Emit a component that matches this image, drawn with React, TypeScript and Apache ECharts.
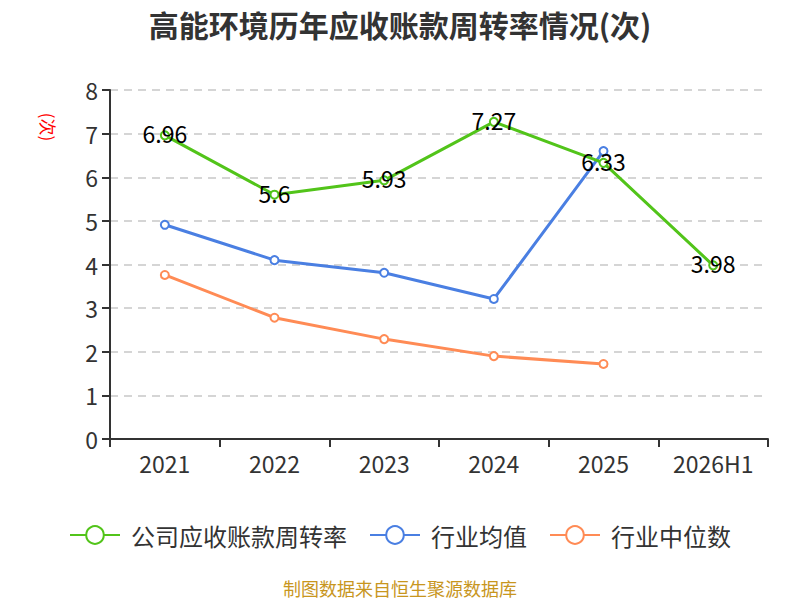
import React, { useEffect, useRef } from "react";
import * as echarts from "echarts";

const categories = ["2021", "2022", "2023", "2024", "2025", "2026H1"];
const companyValues = [6.96, 5.6, 5.93, 7.27, 6.33, 3.98];
const industryAvg = [4.91, 4.1, 3.81, 3.21, 6.6, null];
const industryMedian = [3.76, 2.78, 2.29, 1.9, 1.72, null];
const seriesNames = ["公司应收账款周转率", "行业均值", "行业中位数"];
const colors = ["#52c41a", "#4a7fe2", "#ff8b55"];

export default function App() {
  const ref = useRef<HTMLDivElement>(null);
  useEffect(() => {
    document.body.style.margin = "0";
    if (!ref.current) return;
    const chart = echarts.init(ref.current, undefined, { renderer: "svg" });
    const fontFamily = "'Noto Sans CJK SC', 'Noto Sans', sans-serif";
    const mkSeries = (name: string, data: any[], color: string, label: boolean) => ({
      name,
      type: "line",
      data,
      symbol: "emptyCircle",
      symbolSize: 8,
      lineStyle: { color, width: 3 },
      itemStyle: { color, borderWidth: 1.5 },
      label: label
        ? { show: true, position: "inside", color: "#000", fontSize: 23, fontFamily, offset: [0, -2] }
        : { show: false },
      z: label ? 3 : 2,
    });
    chart.setOption({
      animation: false,
      textStyle: { fontFamily },
      title: {
        text: "高能环境历年应收账款周转率情况(次)",
        left: "center",
        top: 4,
        textStyle: { fontSize: 30, fontWeight: "bold", color: "#333", fontFamily },
      },
      legend: {
        bottom: 48,
        left: "center",
        itemWidth: 50,
        itemHeight: 22,
        itemGap: 22,
        textStyle: { fontSize: 24, color: "#333", fontFamily, padding: [0, 0, 0, 6] },
        data: seriesNames,
      },
      grid: { left: 110, right: 32, top: 90, bottom: 161, containLabel: false },
      xAxis: {
        type: "category",
        data: categories,
        boundaryGap: true,
        axisLine: { lineStyle: { color: "#333", width: 2 } },
        axisTick: { show: true, length: 8, lineStyle: { color: "#333", width: 2 } },
        axisLabel: { fontSize: 23, color: "#333", margin: 12, fontFamily },
      },
      yAxis: {
        type: "value",
        min: 0,
        max: 8,
        interval: 1,
        axisLine: { show: true, lineStyle: { color: "#333", width: 2 } },
        axisTick: { show: true, length: 8, lineStyle: { color: "#333", width: 2 } },
        axisLabel: { fontSize: 23, color: "#333", margin: 12, fontFamily },
        splitLine: { show: true, lineStyle: { color: "#c8c8c8", type: [8, 6], width: 1.5 } },
      },
      graphic: [
        {
          type: "text",
          x: 48,
          y: 127,
          rotation: -Math.PI / 2,
          style: {
            text: "(次)",
            fill: "#ff0000",
            fontSize: 17,
            fontFamily,
            align: "center",
            verticalAlign: "middle",
          },
        },
        {
          type: "text",
          left: "center",
          top: 579,
          style: {
            text: "制图数据来自恒生聚源数据库",
            fill: "#c8961e",
            fontSize: 18,
            fontFamily,
          },
        },
      ],
      series: [
        mkSeries(seriesNames[0], companyValues, colors[0], true),
        mkSeries(seriesNames[1], industryAvg, colors[1], false),
        mkSeries(seriesNames[2], industryMedian, colors[2], false),
      ],
    });
    return () => chart.dispose();
  }, []);
  return <div ref={ref} style={{ width: 800, height: 600 }} />;
}
